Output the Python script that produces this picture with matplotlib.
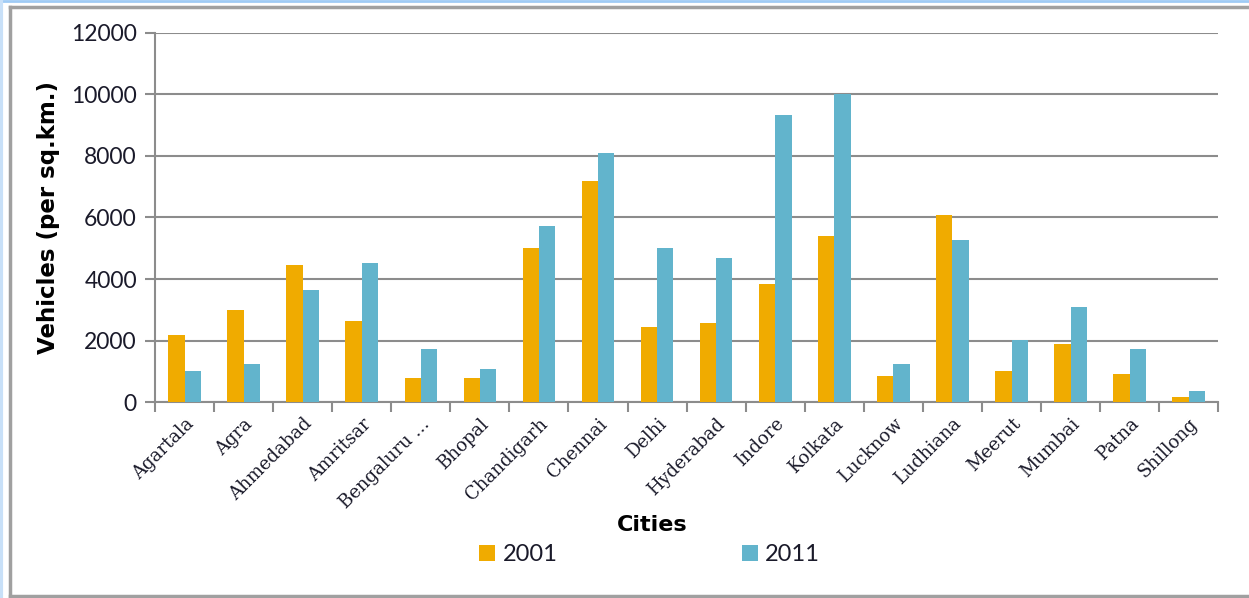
import numpy as np
import matplotlib.pyplot as plt
from matplotlib.lines import Line2D

# Data
cities = ['Agartala', 'Agra', 'Ahmedabad', 'Amritsar', 'Bengaluru ...', 'Bhopal',
          'Chandigarh', 'Chennai', 'Delhi', 'Hyderabad', 'Indore', 'Kolkata',
          'Lucknow', 'Ludhiana', 'Meerut', 'Mumbai', 'Patna', 'Shillong']
v2001 = [2200, 3000, 4450, 2650, 780, 800, 5000, 7200, 2440, 2580, 3830, 5390,
         860, 6080, 1020, 1890, 920, 160]
v2011 = [1000, 1230, 3650, 4510, 1720, 1070, 5730, 8110, 5020, 4670, 9330, 10000,
         1230, 5270, 2010, 3100, 1730, 380]

orange = '#F0AB00'
blue = '#62B4CC'
grid_col = '#8C8C8C'
txt_col = '#1a1a2a'

fig = plt.figure(figsize=(12.49, 5.98), dpi=100)
ax = fig.add_axes([0.1241, 0.3273, 0.8513, 0.618])

x = np.arange(len(cities))
w = 0.276
b1 = ax.bar(x - w / 2, v2001, w, color=orange, label='2001', zorder=3)
b2 = ax.bar(x + w / 2, v2011, w, color=blue, label='2011', zorder=3)

ax.set_xlim(-0.5, len(cities) - 0.5)
ax.set_ylim(0, 12000)
ax.set_yticks(np.arange(0, 12001, 2000))
ax.yaxis.grid(True, color=grid_col, linewidth=1.5, zorder=0)
ax.set_axisbelow(True)

for s in ['top', 'right']:
    ax.spines[s].set_visible(False)
for s in ['left', 'bottom']:
    ax.spines[s].set_color(grid_col)
    ax.spines[s].set_linewidth(1.5)

# ticks on category boundaries, labels at the centres
ax.set_xticks(np.arange(-0.5, len(cities), 1.0))
ax.set_xticklabels([])
ax.set_xticks(x, minor=True)
ax.set_xticklabels(cities, minor=True, rotation=45, ha='right', va='top',
                   rotation_mode='anchor', family='DejaVu Serif', fontsize=13,
                   color=txt_col)
ax.tick_params(axis='x', which='minor', length=0, pad=9)
ax.tick_params(axis='x', which='major', length=7, width=1.5, color=grid_col)
ax.tick_params(axis='y', length=7, width=1.5, color=grid_col, pad=6,
               labelsize=16.5, labelcolor=txt_col)
for lab in ax.get_yticklabels():
    lab.set_family('Lato')

ax.set_ylabel('Vehicles (per sq.km.)', fontsize=16.5, fontweight='bold',
              family='DejaVu Sans', labelpad=8)

fig.text(0.522, 0.122, 'Cities', ha='center', va='center', fontsize=16,
         fontweight='bold', family='DejaVu Sans')

fig.legend(handles=[b1, b2], labels=['2001', '2011'], loc='center',
           bbox_to_anchor=(0.520, 0.072), ncol=2, frameon=False,
           columnspacing=7.8, handlelength=0.68, handleheight=0.68,
           handletextpad=0.3, borderpad=0, prop={'family': 'Lato', 'size': 17})
for t in fig.legends[0].get_texts():
    t.set_color(txt_col)

# outer frame
fig.add_artist(Line2D([10 / 1249, 10 / 1249], [1 - 7 / 598, 1 - 596 / 598],
                      transform=fig.transFigure, color='#A0A0A0', linewidth=2.5))
fig.add_artist(Line2D([10 / 1249, 1.0], [1 - 7 / 598, 1 - 7 / 598],
                      transform=fig.transFigure, color='#A0A0A0', linewidth=2.5))
fig.add_artist(Line2D([10 / 1249, 1.0], [1 - 596 / 598, 1 - 596 / 598],
                      transform=fig.transFigure, color='#A0A0A0', linewidth=2.5))
fig.add_artist(Line2D([0, 1], [0.999, 0.999], transform=fig.transFigure,
                      color='#9FCBF5', linewidth=2))
fig.add_artist(Line2D([0.001, 0.001], [0, 1], transform=fig.transFigure,
                      color='#C8E0F8', linewidth=3))

fig.savefig('out.png', dpi=100)
